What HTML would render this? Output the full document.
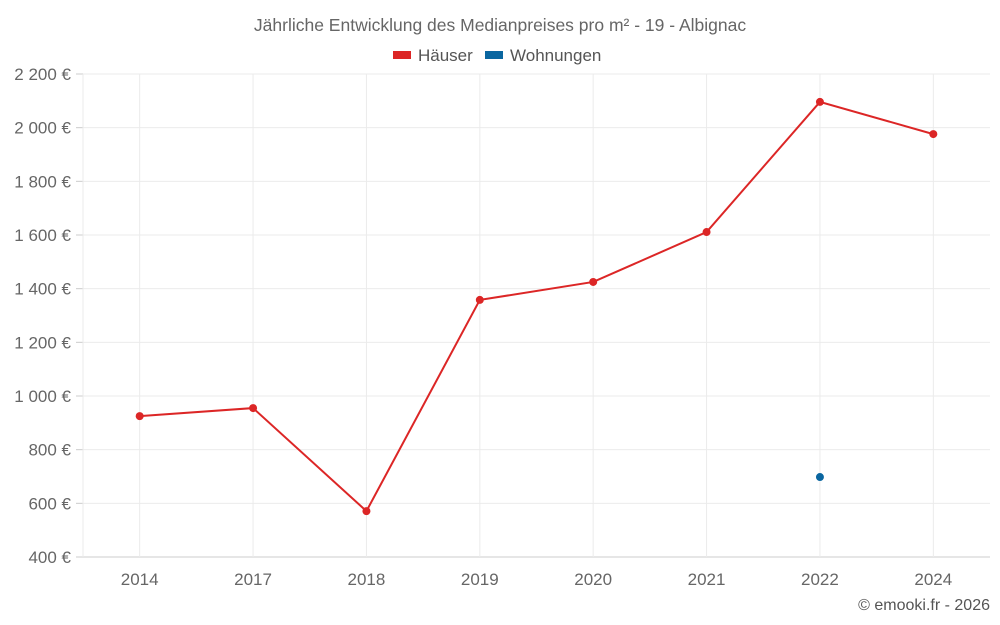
<!DOCTYPE html>
<html><head><meta charset="utf-8"><style>
body{margin:0;background:#fff;font-family:"Liberation Sans",sans-serif;}
svg{display:block}
text{font-family:"Liberation Sans",sans-serif;fill:#666}
</style></head><body>
<svg id="c" width="1000" height="625">
<text x="500" y="31" text-anchor="middle" font-size="17.5">Jährliche Entwicklung des Medianpreises pro m² - 19 - Albignac</text>
<g>
<g><rect x="393" y="51" width="18" height="8" fill="#dc2626"/><text x="418" y="61" font-size="17" style="fill:#555">Häuser</text></g>
<g><rect x="485" y="51" width="18" height="8" fill="#0a66a0"/><text x="510" y="61" font-size="17" style="fill:#555">Wohnungen</text></g>
</g>
<text x="990" y="610" text-anchor="end" font-size="16" style="fill:#555">© emooki.fr - 2026</text>
</svg>
<script>
const categories=["2014","2017","2018","2019","2020","2021","2022","2024"];
const haeuser=[925,955,571,1358,1425,1611,2096,1976];
const wohnungen=[null,null,null,null,null,null,698,null];
const yTicks=[400,600,800,1000,1200,1400,1600,1800,2000,2200];
const yTickLabels=["400 €","600 €","800 €","1 000 €","1 200 €","1 400 €","1 600 €","1 800 €","2 000 €","2 200 €"];
const L=83,R=990,T=74,B=557,ymin=400,ymax=2200;
const svg=document.getElementById('c');const NS='http://www.w3.org/2000/svg';
const bw=(R-L)/categories.length;
const x=i=>L+bw*(i+0.5);
const y=v=>B-(v-ymin)/(ymax-ymin)*(B-T);
function mk(t,a,p){const e=document.createElementNS(NS,t);for(const k in a)e.setAttribute(k,a[k]);(p||svg).appendChild(e);return e;}
const g=mk('g',{});
yTicks.forEach((v,i)=>{
 const l=mk('line',{x1:L,x2:R,y1:y(v),y2:y(v),stroke:i==0?'#ccc':'#ebebeb'},g);
 
 
 mk('line',{x1:L-7,x2:L,y1:y(v),y2:y(v),stroke:'#ccc'},g);
 const t=mk('text',{x:L-12,y:y(v)+6,'text-anchor':'end','font-size':'17'},g);
 t.textContent=yTickLabels[i];
 
 
});
mk('line',{x1:L,x2:L,y1:T,y2:B,stroke:'#ebebeb'},g);
categories.forEach((c,i)=>{
 const l=mk('line',{x1:x(i),x2:x(i),y1:T,y2:B,stroke:'#ebebeb'},g);
 
 
 const t=mk('text',{x:x(i),y:585,'text-anchor':'middle','font-size':'17'},g);
 t.textContent=c;
 
 
});
const pts=haeuser.map((v,i)=>x(i)+','+y(v)).join(' ');
const pl=mk('polyline',{points:pts,fill:'none',stroke:'#dc2626','stroke-width':2});


haeuser.forEach((v,i)=>{
 const c=mk('circle',{cx:x(i),cy:y(v),r:4,fill:'#dc2626'});
 
 
});
wohnungen.forEach((v,i)=>{if(v==null)return;
 const c=mk('circle',{cx:x(i),cy:y(v),r:4,fill:'#0a66a0'});
 
 
});
</script>
</body></html>
